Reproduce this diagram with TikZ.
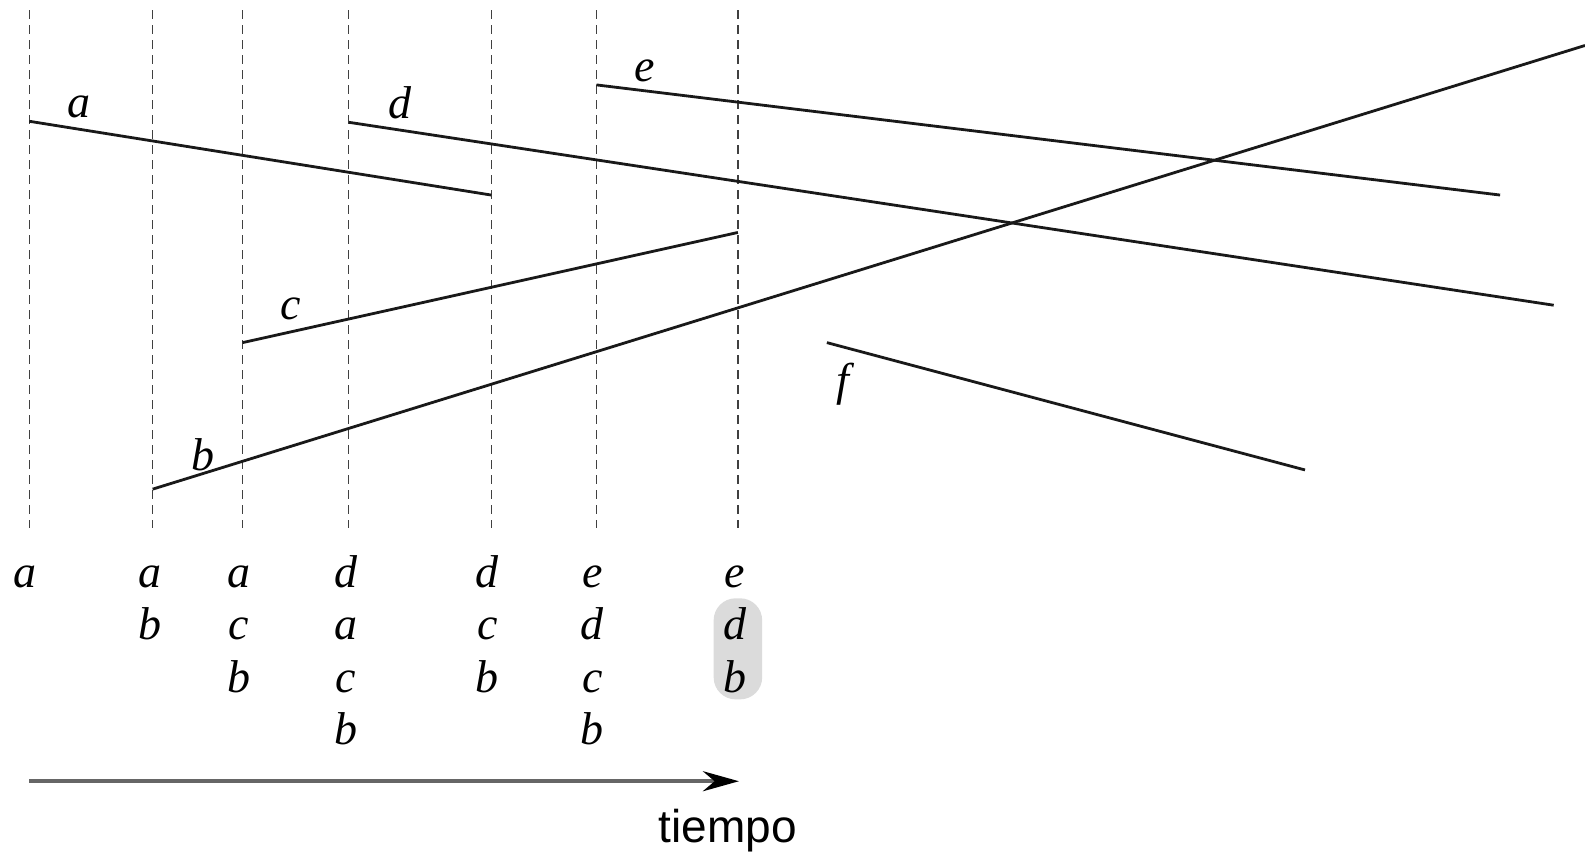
\documentclass[tikz,border=0pt]{standalone}
\usepackage{fontspec}
\setmainfont{Liberation Serif}
\newfontfamily\labelsans{Liberation Sans}
\usetikzlibrary{arrows.meta}
\begin{document}
\begin{tikzpicture}[x=1.0108pt,y=-1.0106pt,
  seg/.style={line width=2.8pt, black!90},
  sweep/.style={line width=1.3pt, dash pattern=on 9pt off 6pt, black!75},
  lbl/.style={inner sep=0pt, font=\fontsize{46}{50}\selectfont\itshape},
  cell/.style={inner sep=0pt, anchor=base, font=\fontsize{46}{50}\selectfont\itshape},
  axis/.style={line width=4pt, black!60, -{Stealth[length=36pt,width=20pt,black]}}]
\useasboundingbox (0,0) rectangle (1568,848);
% sweep lines
\foreach \n/\x in {1/29,2/151,3/240,4/345,5/486,6/590,7/730}{
  \coordinate (t\n) at (\x,10);
  \coordinate (u\n) at (\x,522);
  \draw[sweep] (t\n) -- (u\n);
}
% segments
\coordinate (a1) at (29,120);  \coordinate (a2) at (486,193);
\coordinate (d1) at (345,121); \coordinate (d2) at (1537,302);
\coordinate (e1) at (590,84);  \coordinate (e2) at (1484,193);
\coordinate (c1) at (240,339); \coordinate (c2) at (730,230);
\coordinate (b1) at (151,484); \coordinate (b2) at (1568,45);
\coordinate (f1) at (818,339); \coordinate (f2) at (1291,465);
\draw[seg] (a1) -- (a2);
\draw[seg] (d1) -- (d2);
\draw[seg] (e1) -- (e2);
\draw[seg] (c1) -- (c2);
\draw[seg] (b1) -- (b2);
\draw[seg] (f1) -- (f2);
% segment labels
\node[lbl] (la) at (78,106) {a};
\node[lbl] (ld) at (396,102) {d};
\node[lbl] (le) at (638,70) {e};
\node[lbl] (lc) at (288,306) {c};
\node[lbl] (lb) at (201,450) {b};
\node[lbl] (lf) at (834,380) {f};
% highlight
\fill[black!14, rounded corners=22pt] (706,592) rectangle (754,692);
% status columns
\node[cell] (s11) at (25,581) {a};
\node[cell] (s21) at (148,581) {a};
\node[cell] (s22) at (148,633) {b};
\node[cell] (s31) at (236,581) {a};
\node[cell] (s32) at (236,633) {c};
\node[cell] (s33) at (236,685) {b};
\node[cell] (s41) at (342,581) {d};
\node[cell] (s42) at (342,633) {a};
\node[cell] (s43) at (342,685) {c};
\node[cell] (s44) at (342,737) {b};
\node[cell] (s51) at (482,581) {d};
\node[cell] (s52) at (482,633) {c};
\node[cell] (s53) at (482,685) {b};
\node[cell] (s61) at (586,581) {e};
\node[cell] (s62) at (586,633) {d};
\node[cell] (s63) at (586,685) {c};
\node[cell] (s64) at (586,737) {b};
\node[cell] (s71) at (727,581) {e};
\node[cell] (s72) at (727,633) {d};
\node[cell] (s73) at (727,685) {b};
% time axis
\coordinate (ax1) at (29,773);
\coordinate (ax2) at (731,773);
\draw[axis] (ax1) -- (ax2);
\node[inner sep=0pt, font=\labelsans\fontsize{46}{50}\selectfont] (tiempo) at (720,822) {tiempo};
\end{tikzpicture}
\end{document}
